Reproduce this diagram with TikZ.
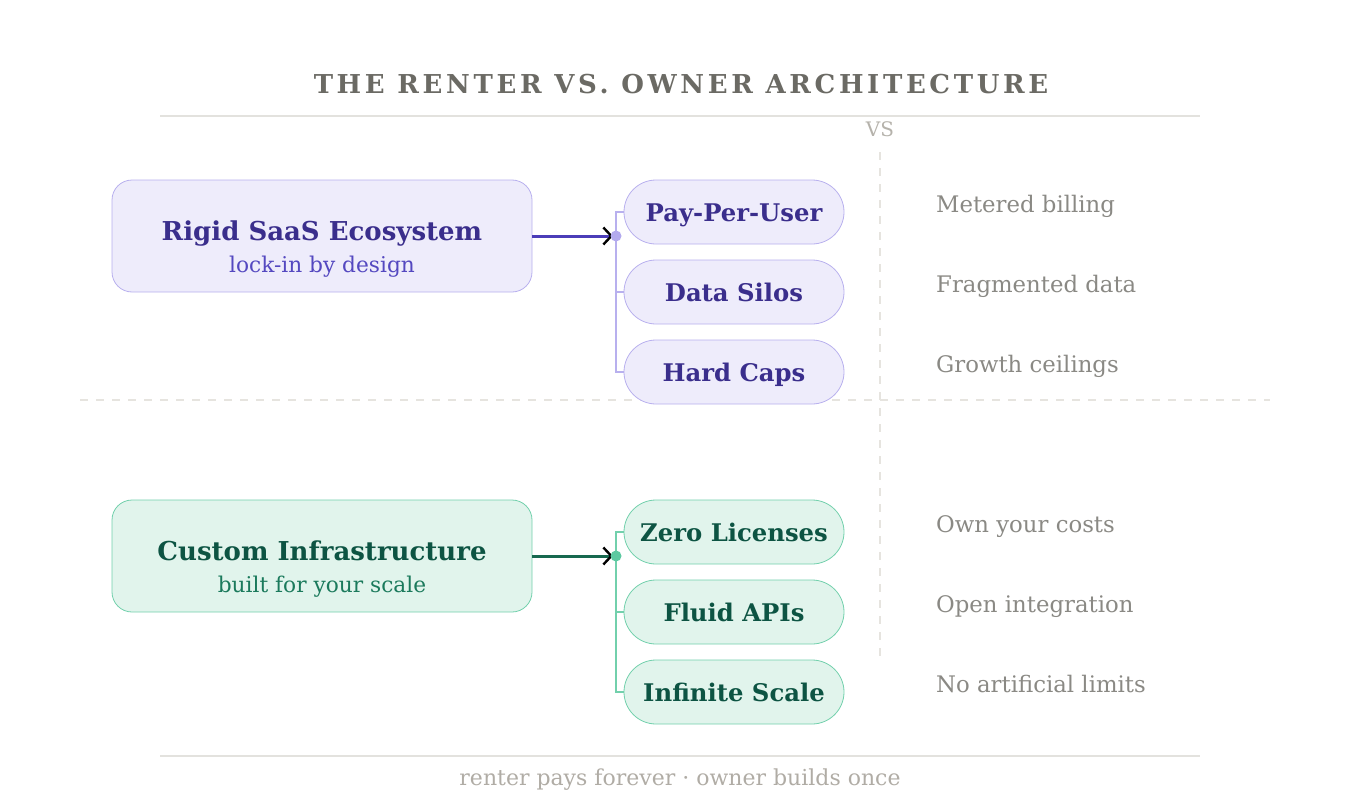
\documentclass[tikz,border=0pt]{standalone}
\usepackage{fontspec}
\setmainfont{DejaVu Serif}
\newfontfamily\titlefont[LetterSpace=14]{DejaVu Serif}
\usetikzlibrary{arrows.meta}
\definecolor{pfill}{HTML}{EEECFB}
\definecolor{pline}{HTML}{B8B0EE}
\definecolor{ptext}{HTML}{3A2E8C}
\definecolor{psub}{HTML}{5448C0}
\definecolor{parrow}{HTML}{4B3DB8}
\definecolor{pdot}{HTML}{B3AAEE}
\definecolor{gfill}{HTML}{E1F4EC}
\definecolor{gline}{HTML}{72D0AC}
\definecolor{gtext}{HTML}{0D5443}
\definecolor{gsub}{HTML}{1B7A5C}
\definecolor{garrow}{HTML}{17684F}
\definecolor{gdot}{HTML}{5CC9A1}
\definecolor{note}{HTML}{8A8984}
\definecolor{titlec}{HTML}{6B6A64}
\definecolor{rulec}{HTML}{E3E2DE}
\definecolor{dashc}{HTML}{E6E4DF}
\definecolor{footc}{HTML}{B0ACA5}
\definecolor{vsc}{HTML}{B5B2AB}
\tikzset{
  mainbox/.style={draw=#1line, fill=#1fill, line width=0.8pt, rounded corners=20pt, minimum width=420pt, minimum height=112pt, inner sep=0pt},
  mainttl/.style={text=#1text, font=\fontsize{26}{30}\selectfont\bfseries, inner sep=0pt, text height=20pt, text depth=6pt},
  mainsub/.style={text=#1sub, font=\fontsize{21.7}{25}\selectfont, inner sep=0pt, text height=16.5pt, text depth=5pt},
  pill/.style={draw=#1line, fill=#1fill, line width=0.8pt, rounded corners=32pt, minimum width=220pt, minimum height=64pt, inner sep=0pt, text=#1text, font=\fontsize{24.3}{28}\selectfont\bfseries, text height=19pt, text depth=0pt},
  notetext/.style={anchor=west, text=note, font=\fontsize{22.8}{26}\selectfont, inner sep=0pt, text height=17.3pt, text depth=5.3pt},
  brk/.style={draw=#1line, line width=1.6pt},
  mainarrow/.style={draw=#1arrow, line width=3pt, shorten >=3pt, -{Straight Barb[length=8pt,width=17pt,line width=2.4pt,color=black]}},
  dot/.style={circle, fill=#1dot, minimum size=11pt, inner sep=0pt},
  rulel/.style={draw=rulec, line width=1.6pt},
  dashl/.style={draw=dashc, line width=1.6pt, dash pattern=on 8pt off 8pt},
}
\begin{document}
\begin{tikzpicture}[x=1pt,y=-1pt]
\useasboundingbox (0,0) rectangle (1360,800);
% title
\node[text=titlec, font=\titlefont\fontsize{26}{30}\selectfont\bfseries, inner sep=0pt] (title) at (681,84) {THE RENTER VS. OWNER ARCHITECTURE};
\coordinate (r1a) at (160,116); \coordinate (r1b) at (1200,116);
\draw[rulel] (r1a) -- (r1b);
\node[text=vsc, font=\fontsize{20}{22}\selectfont, inner sep=0pt] (vs) at (880,129) {VS};
\coordinate (v1) at (880,152); \coordinate (v2) at (880,656);
\draw[dashl] (v1) -- (v2);
\coordinate (h1) at (80,400); \coordinate (h2) at (1270,400);
\draw[dashl] (h1) -- (h2);

% top
\node[mainbox=p] (rbox) at (322,236) {};
\node[mainttl=p] (rttl) at (322,233) {Rigid SaaS Ecosystem};
\node[mainsub=p] (rsub) at (322,267) {lock-in by design};
\node[pill=p] (p1) at (734,212) {Pay-Per-User};
\node[pill=p] (p2) at (734,292) {Data Silos};
\node[pill=p] (p3) at (734,372) {Hard Caps};
\coordinate (rj) at (616,236);
\draw[brk=p] (p1.west) -| (rj) |- (p3.west);
\draw[brk=p] (rj |- p2.west) -- (p2.west);
\draw[mainarrow=p] (rbox.east) -- (rj);
\node[dot=p] (rdot) at (rj) {};
\node[notetext] (n1) at (936,206) {Metered billing};
\node[notetext] (n2) at (936,286) {Fragmented data};
\node[notetext] (n3) at (936,366) {Growth ceilings};

% bottom
\node[mainbox=g] (cbox) at (322,556) {};
\node[mainttl=g] (cttl) at (322,553) {Custom Infrastructure};
\node[mainsub=g] (csub) at (322,587) {built for your scale};
\node[pill=g] (q1) at (734,532) {Zero Licenses};
\node[pill=g] (q2) at (734,612) {Fluid APIs};
\node[pill=g] (q3) at (734,692) {Infinite Scale};
\coordinate (cj) at (616,556);
\draw[brk=g] (q1.west) -| (cj) |- (q3.west);
\draw[brk=g] (cj |- q2.west) -- (q2.west);
\draw[mainarrow=g] (cbox.east) -- (cj);
\node[dot=g] (cdot) at (cj) {};
\node[notetext] (m1) at (936,526) {Own your costs};
\node[notetext] (m2) at (936,606) {Open integration};
\node[notetext] (m3) at (936,686) {No artificial limits};

% footer
\coordinate (r2a) at (160,756); \coordinate (r2b) at (1200,756);
\draw[rulel] (r2a) -- (r2b);
\node[text=footc, font=\fontsize{22}{26}\selectfont, inner sep=0pt] (foot) at (680,780) {renter pays forever · owner builds once};
\end{tikzpicture}
\end{document}
